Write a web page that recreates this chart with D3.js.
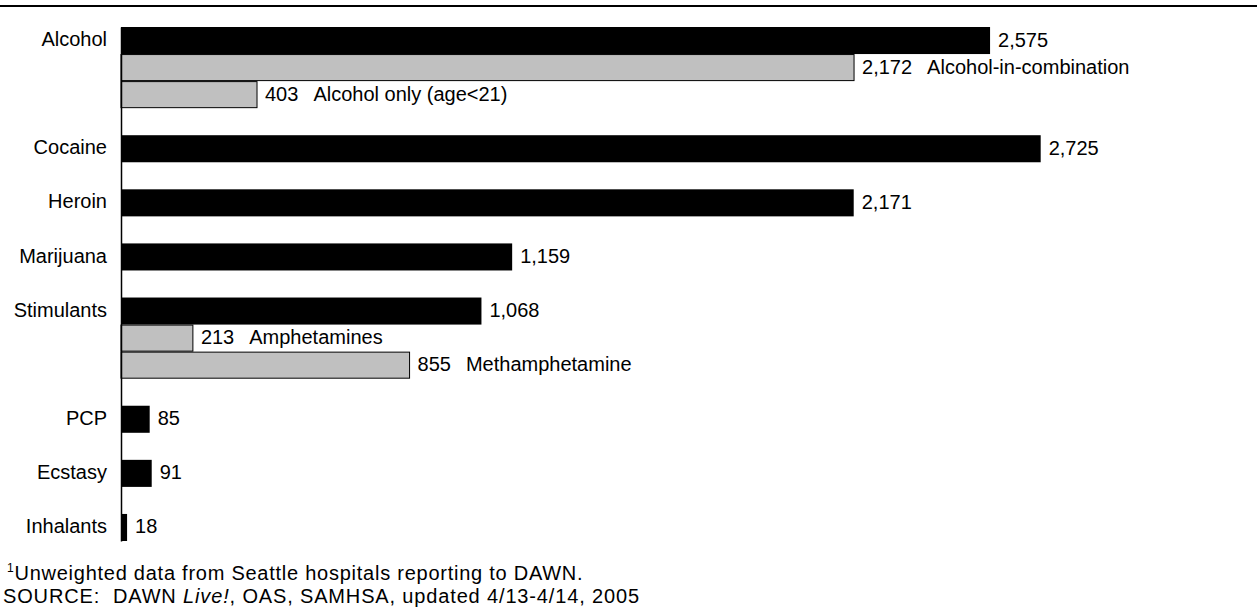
<!DOCTYPE html>
<html lang="en">
    <head>
        <meta charset="utf-8">
        <title>Drug ED visits, Seattle</title>
        <script src="https://d3js.org/d3.v7.min.js"></script>
        <style type="text/css">
            body { margin: 0; background: #fff; }
            text { font-family: Arial, "Liberation Sans", sans-serif; font-size: 20px; fill: #000; }
        </style>
    </head>
    <body>
        <script type="text/javascript">

            const svgW = 1257;
            const svgH = 611;
            const axisX = 121;

            // main drug categories and their totals
            const categories = ["Alcohol", "Cocaine", "Heroin", "Marijuana", "Stimulants", "PCP", "Ecstasy", "Inhalants"];
            const totals = [2575, 2725, 2171, 1159, 1068, 85, 91, 18];

            // sub-bars shown in grey under their parent
            const subNames = ["Alcohol-in-combination", "Alcohol only (age<21)", "Amphetamines", "Methamphetamine"];
            const subParents = ["Alcohol", "Alcohol", "Stimulants", "Stimulants"];
            const subValues = [2172, 403, 213, 855];

            // build the list of rows (with spacer rows between groups)
            const rows = [];
            categories.forEach((c, i) => {
                rows.push({id: c, label: c, value: totals[i], sub: false});
                subNames.forEach((s, j) => {
                    if (subParents[j] === c) rows.push({id: s, name: s, value: subValues[j], sub: true});
                });
                if (i < categories.length - 1) rows.push({id: "gap" + i, spacer: true});
            });

            const xScale = d3.scaleLinear()
                             .domain([0, 3000])
                             .range([axisX, axisX + 1012.5]);

            const yScale = d3.scaleBand()
                             .domain(rows.map(d => d.id))
                             .range([27, 541])
                             .padding(0);

            const svg = d3.select("body")
                    .append("svg")
                    .attr("width", svgW)
                    .attr("height", svgH);

            // rule across the top
            svg.append("line")
                .attr("x1", 0).attr("x2", svgW)
                .attr("y1", 6).attr("y2", 6)
                .attr("stroke", "#000")
                .attr("stroke-width", 2);

            const bars = rows.filter(d => !d.spacer);

            svg.selectAll("rect.bar")
               .data(bars)
               .enter()
               .append("rect")
               .attr("class", "bar")
               .attr("x", xScale(0))
               .attr("y", d => yScale(d.id) + (d.sub ? 0.5 : 0))
               .attr("width", d => xScale(d.value) - xScale(0))
               .attr("height", d => yScale.bandwidth() - (d.sub ? 1 : 0))
               .attr("fill", d => d.sub ? "#c0c0c0" : "#000")
               .attr("stroke", d => d.sub ? "#000" : "none")
               .attr("stroke-width", 1);

            // left axis line, no ticks
            const leftAxis = d3.axisLeft(yScale).tickSize(0).tickFormat("");
            svg.append("g")
                .attr("transform", "translate(" + axisX + ",0)")
                .call(leftAxis)
                .call(g => g.select(".domain").attr("stroke-width", 1.5));

            // category labels
            svg.selectAll("text.cat")
               .data(bars.filter(d => !d.sub))
               .enter()
               .append("text")
               .attr("class", "cat")
               .attr("x", 107)
               .attr("y", d => yScale(d.id) + yScale.bandwidth() / 2)
               .attr("dy", "0.28em")
               .attr("text-anchor", "end")
               .text(d => d.label);

            // value labels
            const fmt = d3.format(",");
            const vals = svg.selectAll("text.val")
               .data(bars)
               .enter()
               .append("text")
               .attr("class", "val")
               .attr("x", d => xScale(d.value) + 8)
               .attr("y", d => yScale(d.id) + yScale.bandwidth() / 2)
               .attr("dy", "0.3em");
            vals.append("tspan").text(d => fmt(d.value));
            vals.filter(d => d.sub)
                .append("tspan")
                .attr("dx", 15)
                .text(d => d.name);

            // footnotes
            const foot = svg.append("text").attr("x", 7).attr("y", 580)
                .style("letter-spacing", "0.75px");
            foot.append("tspan").style("font-size", "12px").attr("dy", "-8").text("1");
            foot.append("tspan").attr("dy", "8").text("Unweighted data from Seattle hospitals reporting to DAWN.");

            const src = svg.append("text").attr("x", 3).attr("y", 603)
                .style("letter-spacing", "0.85px").attr("xml:space", "preserve");
            src.append("tspan").text("SOURCE:  DAWN ");
            src.append("tspan").style("font-style", "italic").text("Live!");
            src.append("tspan").text(", OAS, SAMHSA, updated 4/13-4/14, 2005");

        </script>
    </body>
</html>
